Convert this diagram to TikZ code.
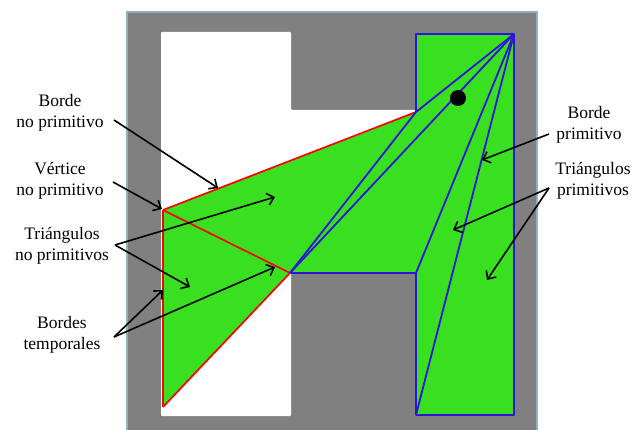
\documentclass[tikz,border=0pt]{standalone}
\usepackage{fontspec}
\setmainfont{Liberation Serif}
\usetikzlibrary{arrows.meta}
\definecolor{polygreen}{RGB}{56,224,32}
\definecolor{wallgray}{RGB}{128,128,128}
\definecolor{edgeblue}{RGB}{45,20,215}
\definecolor{frameteal}{RGB}{140,178,188}
\begin{document}
\begin{tikzpicture}[x=1pt,y=-1pt,
  lbl/.style={font=\fontsize{17.5}{20.5}\selectfont, align=center, inner sep=0pt},
  arr/.style={-{Straight Barb[length=6.5pt,width=12pt]}, line width=1.6pt, black},
  rededge/.style={draw=red, line width=1.7pt},
  blueedge/.style={draw=edgeblue, line width=1.8pt, line join=round}]
\useasboundingbox (0,0) rectangle (632,430);
\fill[white] (0,0) rectangle (632,430);
% wall area
\filldraw[fill=wallgray, draw=frameteal, line width=1.2pt] (127,12) rectangle (537,445);
% free space (H shape)
\fill[white, rounded corners=1pt] (161,32) -- (291,32) -- (291,110) -- (416,110) -- (416,273) -- (291,273) -- (291,416) -- (161,416) -- cycle;
% vertices
\coordinate (v) at (163,210);
\coordinate (p) at (416,112);
\coordinate (tl) at (416,34);
\coordinate (apex) at (514,34);
\coordinate (br) at (514,415);
\coordinate (bl) at (416,415);
\coordinate (c) at (416,273);
\coordinate (m) at (290,273);
\coordinate (b) at (163,407);
% polygon
\fill[polygreen] (v) -- (p) -- (tl) -- (apex) -- (br) -- (bl) -- (c) -- (m) -- (b) -- cycle;
% red (non-primitive / temporary) edges
\draw[rededge] (v) -- (p);
\draw[rededge] (v) -- (m);
\draw[rededge] (m) -- (b);
\draw[rededge] (v) -- (b);
% blue (primitive) edges
\draw[blueedge] (p) -- (tl) -- (apex) -- (br) -- (bl) -- (c) -- (m);
\draw[blueedge] (p) -- (apex);
\draw[blueedge] (m) -- (p);
\draw[blueedge] (m) -- (apex);
\draw[blueedge] (c) -- (apex);
\draw[blueedge] (bl) -- (apex);
% dot
\fill[black] (458,98) circle (8);
% labels
\node[lbl] (bnp) at (60,113) {Borde\\no primitivo};
\node[lbl] (vnp) at (60,181) {Vértice\\no primitivo};
\node[lbl] (tnp) at (62,246) {Triángulos\\no primitivos};
\node[lbl] (bt) at (62,335) {Bordes\\temporales};
\node[lbl] (bp) at (589,125) {Borde\\primitivo};
\node[lbl] (tp) at (593,181) {Triángulos\\primitivos};
% arrow start points
\coordinate (bnps) at (114,120);
\coordinate (vnps) at (113,182);
\coordinate (tnps) at (115,245);
\coordinate (bts) at (114,337);
\coordinate (bps) at (549,134);
\coordinate (tps) at (549,188);
% arrow targets
\coordinate (bnpt) at (218,188);
\coordinate (vnpt) at (162,209);
\coordinate (tnpt1) at (275,197);
\coordinate (tnpt2) at (190,287);
\coordinate (btt1) at (163,290);
\coordinate (btt2) at (275,267);
\coordinate (bpt) at (482,160);
\coordinate (tpt1) at (453,230);
\coordinate (tpt2) at (487,280);
% arrows
\draw[arr] (bnps) -- (bnpt);
\draw[arr] (vnps) -- (vnpt);
\draw[arr] (tnps) -- (tnpt1);
\draw[arr] (tnps) -- (tnpt2);
\draw[arr] (bts) -- (btt1);
\draw[arr] (bts) -- (btt2);
\draw[arr] (bps) -- (bpt);
\draw[arr] (tps) -- (tpt1);
\draw[arr] (tps) -- (tpt2);
\end{tikzpicture}
\end{document}
